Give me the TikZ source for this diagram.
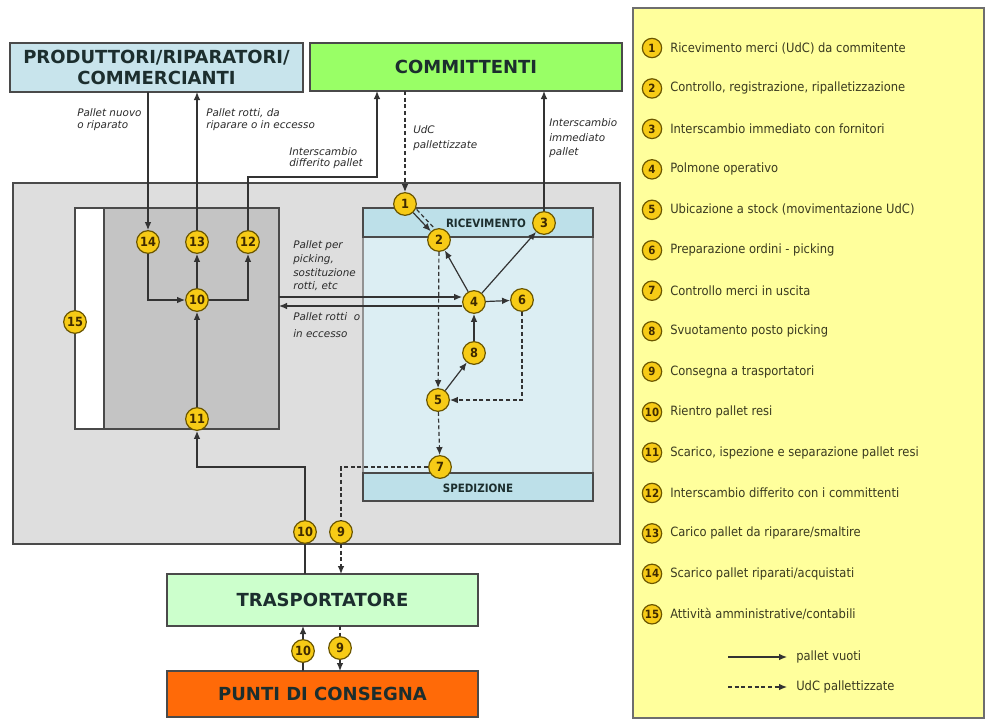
\documentclass[tikz,border=0pt]{standalone}
\usepackage{fontspec}
\setmainfont{DejaVu Sans}
\newfontfamily\narrowfont[FakeStretch=0.9]{DejaVu Sans}
\usetikzlibrary{arrows.meta,calc}

\definecolor{linec}{HTML}{333333}
\definecolor{boxline}{HTML}{4A4A4A}
\definecolor{outerfill}{HTML}{DEDEDE}
\definecolor{innerfill}{HTML}{C4C4C4}
\definecolor{whfill}{HTML}{DCEEF3}
\definecolor{bandfill}{HTML}{BDE0E9}
\definecolor{prodfill}{HTML}{C8E4EC}
\definecolor{commfill}{HTML}{99FF66}
\definecolor{traspfill}{HTML}{CCFFCC}
\definecolor{puntifill}{HTML}{FF6A08}
\definecolor{legfill}{HTML}{FFFF9C}
\definecolor{stepfill}{HTML}{F7CB16}
\definecolor{stepline}{HTML}{6B5600}
\definecolor{steptext}{HTML}{3F2A00}
\definecolor{titletext}{HTML}{1C2E2E}
\definecolor{notetext}{HTML}{2A2A2A}
\definecolor{legtextc}{HTML}{3A3A20}

\tikzset{
  area/.style={draw=boxline, line width=1pt, rectangle, inner sep=0pt, outer sep=0pt},
  title/.style={font=\bfseries\fontsize{13.5}{15.5}\selectfont, text=titletext, align=center},
  bandtitle/.style={font=\narrowfont\bfseries\fontsize{8.6}{10}\selectfont, text=titletext, inner sep=0pt},
  stepnum/.style={circle, fill=stepfill, draw=stepline, line width=0.9pt, minimum size=17pt,
    inner sep=0pt, font=\narrowfont\bfseries\fontsize{9.5}{10}\selectfont, text=steptext},
  legnum/.style={stepnum, minimum size=14.5pt, font=\narrowfont\bfseries\fontsize{8.5}{9}\selectfont},
  flowline/.style={draw=linec, line width=0.9pt},
  flow/.style={flowline, -{Latex[length=6pt,width=5pt]}},
  udcline/.style={flowline, dash pattern=on 3pt off 2pt},
  udc/.style={udcline, -{Latex[length=6pt,width=5pt]}},
  note/.style={font=\itshape\fontsize{7.8}{#1}\selectfont, text=notetext, align=left,
    inner sep=0pt, anchor=north west},
  note/.default=10,
  legtext/.style={font=\narrowfont\fontsize{9.6}{11}\selectfont, text=legtextc, anchor=west, inner sep=0pt},
}

\begin{document}
\begin{tikzpicture}[x=0.75pt,y=-0.75pt]
\useasboundingbox (0,0) rectangle (986,722);

% ---- external parties ----
\node[area, fill=prodfill, minimum width=219.75pt, minimum height=36.75pt, title] (prod) at (156.5,67.5)
  {PRODUTTORI/RIPARATORI/\\COMMERCIANTI};
\node[area, fill=commfill, minimum width=234pt, minimum height=36pt, title] (comm) at (466,67) {COMMITTENTI};
\node[area, fill=traspfill, minimum width=233.25pt, minimum height=39pt, title] (trasp) at (322.5,600) {TRASPORTATORE};
\node[area, fill=puntifill, minimum width=233.25pt, minimum height=34.5pt, title] (punti) at (322.5,694) {PUNTI DI CONSEGNA};

% ---- warehouse areas ----
\node[area, fill=outerfill, minimum width=455.25pt, minimum height=270.75pt] (hub) at (316.5,363.5) {};
\node[area, fill=white, minimum width=21.75pt, minimum height=165.75pt] (admin) at (89.5,318.5) {};
\node[area, fill=innerfill, minimum width=131.25pt, minimum height=165.75pt] (yard) at (191.5,318.5) {};
\node[area, draw=boxline!60, fill=whfill, minimum width=172.5pt, minimum height=219.75pt] (wh) at (478,354.5) {};
\node[area, fill=bandfill, minimum width=172.5pt, minimum height=21.75pt] (recv) at (478,222.5) {};
\node[area, fill=bandfill, minimum width=172.5pt, minimum height=21pt] (ship) at (478,487) {};
\node[bandtitle] (recvlbl) at (486,223) {RICEVIMENTO};
\node[bandtitle] (shiplbl) at (478,488) {SPEDIZIONE};

% ---- legend panel ----
\node[area, draw=boxline!80, fill=legfill, minimum width=263.25pt, minimum height=532.5pt] (legend) at (808.5,363) {};

% ---- activity markers ----
\node[stepnum] (n1) at (405,204) {1};
\node[stepnum] (n2) at (439,240) {2};
\node[stepnum] (n3) at (544,223) {3};
\node[stepnum] (n4) at (474,302) {4};
\node[stepnum] (n5) at (438,400) {5};
\node[stepnum] (n6) at (522,300) {6};
\node[stepnum] (n7) at (440,467) {7};
\node[stepnum] (n8) at (474,353) {8};
\node[stepnum] (n9) at (341,532) {9};
\node[stepnum] (n9c) at (340,648) {9};
\node[stepnum] (n10) at (197,300) {10};
\node[stepnum] (n10b) at (305,532) {10};
\node[stepnum] (n10c) at (303,651) {10};
\node[stepnum] (n11) at (197,419) {11};
\node[stepnum] (n12) at (248,242) {12};
\node[stepnum] (n13) at (197,242) {13};
\node[stepnum] (n14) at (148,242) {14};
\node[stepnum] (n15) at (75,322) {15};

% ---- routing points ----
\coordinate (k12) at (377,177);
\coordinate (k10) at (305,467);
\coordinate (k7) at (341,467);
\coordinate (a4) at (474,297);
\coordinate (b4) at (474,306);

% ---- flows with the outside ----
\draw[flow] (prod.south -| n14) -- (n14);
\draw[flow] (n13) -- (n13 |- prod.south);
\draw[flow] (n12) |- (k12) -- (k12 |- comm.south);
\draw[udc] (comm.south -| n1) -- (n1);
\draw[flow] (n3) -- (n3 |- comm.south);

% ---- pallet yard ----
\draw[flow] (n14) |- (n10);
\draw[flow] (n10) -| (n12);
\draw[flow] (n10) -- (n13);
\draw[flow] (n11) -- (n10);
\draw[flow] (yard.east |- a4) -- (n4.west |- a4);
\draw[flow] (n4.west |- b4) -- (yard.east |- b4);

% ---- warehouse flows ----
\draw[flow] (n1) -- (n2);
\draw[udcline, transform canvas={xshift=2.6pt, yshift=2.4pt}] (n1) -- (n2);
\draw[flow] (n4) -- (n2);
\draw[flow] (n4) -- (n3);
\draw[flow] (n4) -- (n6);
\draw[flow] (n8) -- (n4);
\draw[flow] (n5) -- (n8);
\draw[udc] (n2) -- (n5);
\draw[udc] (n6) |- (n5);
\draw[udc] (n5) -- (n7);

% ---- shipping and returns ----
\draw[udcline] (n7) -- (k7) -- (n9);
\draw[udc] (n9) -- (n9 |- trasp.north);
\draw[flowline] (n10b |- trasp.north) -- (n10b);
\draw[flow] (n10b) -- (k10) -| (n11);
\draw[flowline] (n10c |- punti.north) -- (n10c);
\draw[flow] (n10c) -- (n10c |- trasp.south);
\draw[udcline] (n9c |- trasp.south) -- (n9c);
\draw[udc] (n9c) -- (n9c |- punti.north);

% ---- flow notes ----
\node[note=9] (t1) at (77,108.5) {Pallet nuovo\\o riparato};
\node[note=9] (t2) at (206,108.5) {Pallet rotti, da\\riparare o in eccesso};
\node[note=8.4] (t3) at (289,147.5) {Interscambio\\differito pallet};
\node[note=11] (t4) at (413,125.5) {UdC\\pallettizzate};
\node[note=10.9] (t5) at (549,118.5) {Interscambio\\immediato\\pallet};
\node[note=10.3] (t6) at (293,240.5) {Pallet per\\picking,\\sostituzione\\rotti, etc};
\node[note=12.7] (t7) at (293,312.5) {Pallet rotti~ o\\in eccesso};

% ---- legend entries ----
\foreach \k/\txt in {
  1/{Ricevimento merci (UdC) da commitente},
  2/{Controllo, registrazione, ripalletizzazione},
  3/{Interscambio immediato con fornitori},
  4/{Polmone operativo},
  5/{Ubicazione a stock (movimentazione UdC)},
  6/{Preparazione ordini - picking},
  7/{Controllo merci in uscita},
  8/{Svuotamento posto picking},
  9/{Consegna a trasportatori},
  10/{Rientro pallet resi},
  11/{Scarico, ispezione e separazione pallet resi},
  12/{Interscambio differito con i committenti},
  13/{Carico pallet da riparare/smaltire},
  14/{Scarico pallet riparati/acquistati},
  15/{Attività amministrative/contabili}}{
  \node[legnum] (L\k) at (652,{48+40.45*(\k-1)}) {\k};
  \node[legtext] (LT\k) at (670,{48+40.45*(\k-1)}) {\txt};
}
\coordinate (ls1) at (728,657);
\coordinate (le1) at (787,657);
\coordinate (ls2) at (728,687);
\coordinate (le2) at (787,687);
\draw[flow] (ls1) -- (le1);
\draw[udc] (ls2) -- (le2);
\node[legtext] (LA) at (796,657) {pallet vuoti};
\node[legtext] (LB) at (796,687) {UdC pallettizzate};
\end{tikzpicture}
\end{document}
